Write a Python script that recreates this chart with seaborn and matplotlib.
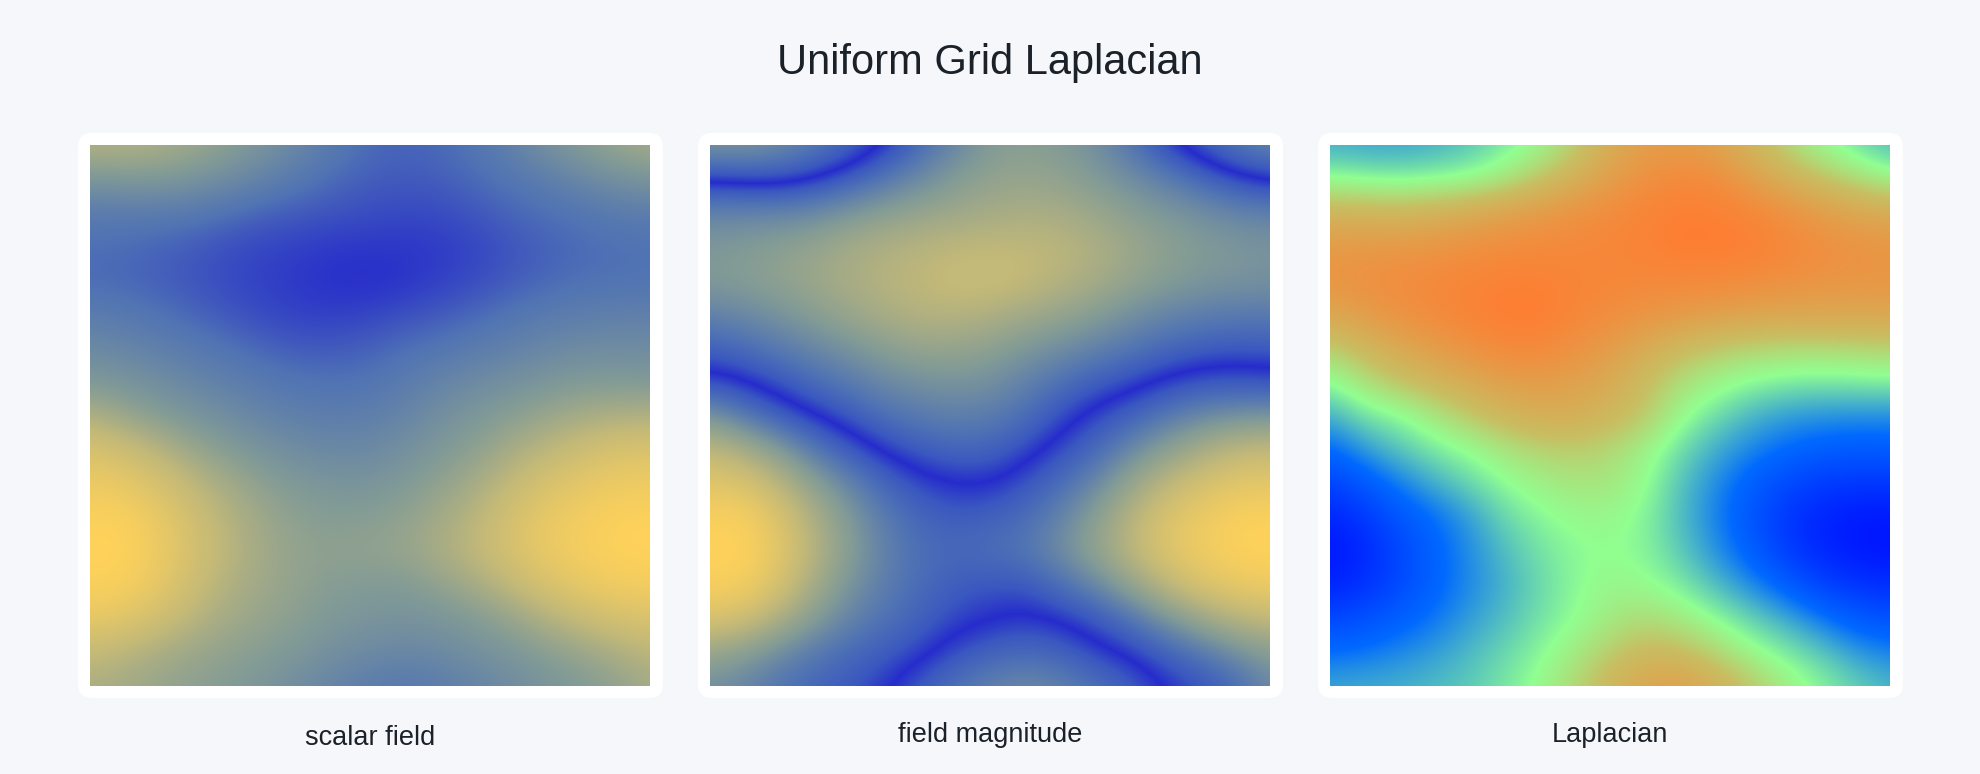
import numpy as np
import matplotlib
matplotlib.use("Agg")
import matplotlib.pyplot as plt
from matplotlib.colors import LinearSegmentedColormap, Normalize
from matplotlib.patches import FancyBboxPatch
import seaborn as sns

TITLE = "Uniform Grid Laplacian"
PANEL_NAMES = ["scalar field", "field magnitude", "Laplacian"]

# field samples, relative to the contour where magnitude vanishes
scalar_field = np.array([
 [ .38, .38, .33, .25, .14, .01,-.15,-.30,-.42,-.45,-.42,-.35,-.22,-.03, .10, .22, .30],
 [ .03, .05, .06, .00,-.10,-.22,-.33,-.43,-.48,-.50,-.48,-.42,-.35,-.27,-.15,-.05, .02],
 [-.30,-.30,-.30,-.33,-.40,-.46,-.50,-.53,-.56,-.58,-.57,-.52,-.45,-.40,-.36,-.30,-.28],
 [-.40,-.42,-.46,-.50,-.56,-.60,-.63,-.66,-.67,-.67,-.65,-.60,-.53,-.47,-.42,-.40,-.38],
 [-.42,-.44,-.48,-.53,-.58,-.63,-.67,-.71,-.72,-.69,-.63,-.57,-.50,-.44,-.40,-.38,-.37],
 [-.28,-.32,-.38,-.45,-.52,-.58,-.62,-.63,-.60,-.55,-.50,-.44,-.36,-.30,-.26,-.24,-.24],
 [-.12,-.17,-.24,-.31,-.38,-.45,-.50,-.50,-.47,-.40,-.35,-.28,-.22,-.15,-.11,-.09,-.10],
 [ .05, .00,-.08,-.17,-.24,-.32,-.36,-.38,-.36,-.28,-.19,-.11,-.05, .02, .07, .08, .06],
 [ .37, .22, .10, .00,-.09,-.19,-.24,-.27,-.25,-.18,-.06, .04, .12, .22, .30, .34, .36],
 [ .66, .56, .40, .22, .09,-.02,-.10,-.14,-.13,-.05, .05, .15, .30, .43, .55, .66, .68],
 [ .84, .80, .64, .44, .28, .14, .05, .00, .00, .07, .17, .30, .48, .65, .77, .84, .86],
 [ .97, .97, .80, .58, .39, .24, .14, .10, .12, .17, .28, .43, .62, .80, .90, .97, .99],
 [1.00,1.00, .85, .62, .42, .27, .18, .16, .18, .22, .33, .47, .65, .82, .92, .99,1.00],
 [ .97, .95, .78, .55, .36, .25, .17, .10, .08, .08, .18, .30, .47, .65, .80, .88, .92],
 [ .80, .74, .58, .41, .28, .20, .12, .05, .01,-.02, .01, .08, .20, .36, .50, .62, .68],
 [ .50, .42, .32, .23, .16, .10, .04,-.06,-.12,-.15,-.12,-.04, .02, .12, .22, .33, .43],
 [ .33, .28, .20, .14, .08, .01,-.10,-.20,-.28,-.33,-.28,-.20,-.11,-.01, .06, .15, .30],
])

laplacian = np.array([
 [-.25,-.28,-.28,-.25,-.18,-.08, .03, .22, .50, .65, .68, .60, .42, .20, .02,-.10,-.22],
 [ .00,-.03,-.05,-.03, .00, .10, .28, .47, .65, .80, .88, .85, .65, .48, .32, .18, .05],
 [ .42, .42, .40, .45, .52, .62, .70, .78, .85, .93, .98, .97, .92, .80, .68, .58, .52],
 [ .70, .72, .72, .75, .80, .84, .86, .88, .90, .94,1.00,1.00, .98, .90, .83, .78, .75],
 [ .75, .80, .84, .88, .92, .96, .96, .92, .90, .88, .88, .87, .84, .80, .76, .74, .74],
 [ .57, .68, .78, .86, .94,1.00,1.00, .90, .83, .76, .70, .65, .60, .58, .58, .58, .58],
 [ .22, .40, .55, .68, .78, .88, .88, .78, .68, .52, .37, .27, .22, .18, .18, .20, .22],
 [-.01, .15, .30, .42, .53, .64, .67, .63, .53, .35, .16, .06,-.02,-.05,-.07,-.06,-.04],
 [-.25,-.08,-.03, .12, .27, .42, .50, .50, .40, .28, .03,-.10,-.22,-.30,-.33,-.34,-.35],
 [-.48,-.30,-.17,-.07, .01, .12, .22, .25, .20, .06,-.10,-.25,-.37,-.46,-.52,-.55,-.53],
 [-.72,-.56,-.39,-.24,-.12,-.01, .07, .13, .12, .02,-.18,-.35,-.52,-.66,-.75,-.78,-.78],
 [-.90,-.78,-.58,-.45,-.30,-.12,-.03, .03, .04,-.03,-.20,-.38,-.58,-.78,-.90,-.97,-.98],
 [-1.0,-.88,-.68,-.50,-.35,-.20,-.09,-.02, .00,-.03,-.16,-.33,-.52,-.74,-.88,-.97,-1.0],
 [-.92,-.82,-.66,-.50,-.36,-.24,-.12,-.02, .05, .02,-.06,-.20,-.35,-.52,-.70,-.80,-.85],
 [-.68,-.62,-.52,-.42,-.30,-.20,-.09,-.01, .10, .18, .10,-.01,-.13,-.25,-.40,-.55,-.60],
 [-.45,-.42,-.36,-.30,-.21,-.12,-.03, .10, .25, .38, .35, .20, .04,-.06,-.16,-.30,-.38],
 [-.27,-.25,-.24,-.20,-.16,-.07, .03, .20, .42, .58, .66, .50, .30, .10,-.02,-.13,-.22],
])

field_stops = [(38, 44, 204), (80, 115, 180), (130, 155, 150), (195, 185, 120), (255, 210, 90)]
field_levels = [-0.72, -0.38, 0.08, 0.48, 1.0]
mag_core = (58, 88, 192)
mag_core_level = 0.08
mag_levels_up = [0.0, 0.20, 0.40, 0.68, 1.0]
mag_levels_down = [0.0, -0.20, -0.42, -0.68]
lap_stops = [(0, 20, 255), (0, 105, 255), (145, 255, 145), (200, 190, 98), (255, 125, 50)]
lap_levels = [-1.0, -0.46, 0.0, 0.33, 1.0]


def rgb(c):
    return tuple(v / 255 for v in c)


def ramp(name, levels, colors):
    lo, hi = levels[0], levels[-1]
    pts = [((v - lo) / (hi - lo), rgb(c)) for v, c in zip(levels, colors)]
    return LinearSegmentedColormap.from_list(name, pts, N=4096)


field_cmap = ramp("field", field_levels, field_stops)
mag_levels = ([-1.0] + mag_levels_down[:0:-1] + [-mag_core_level, 0.0, mag_core_level]
              + mag_levels_up[1:])
mag_colors = ([field_stops[3], field_stops[3], field_stops[2], field_stops[1], mag_core,
               field_stops[0], mag_core] + field_stops[1:])
mag_cmap = ramp("mag", mag_levels, mag_colors)
lap_cmap = ramp("lap", lap_levels, lap_stops)

sns.set_theme(style="white")
plt.rcParams["font.family"] = ["Liberation Sans", "DejaVu Sans"]

W, H = 1980, 774
BG = "#f5f7fa"
INK = "#1b2129"
fig = plt.figure(figsize=(W / 100, H / 100), dpi=100, facecolor=BG)

panels = [
    (scalar_field, field_cmap, Normalize(-0.72, 1.0), 90, 738),
    (scalar_field, mag_cmap, Normalize(-1.0, 1.0), 710, 735),
    (laplacian, lap_cmap, Normalize(-1.0, 1.0), 1330, 735),
]
TOP, IW, IH, PAD, R = 145, 560, 541, 12, 14

for (data, cmap, norm, left, cap_y), name in zip(panels, PANEL_NAMES):
    # rounded card drawn in pixel space so that the corners stay circular
    card = FancyBboxPatch(
        (left - PAD + R, H - (TOP + IH + PAD - R)),
        IW + 2 * PAD - 2 * R + 1, IH + 2 * PAD - 2 * R,
        boxstyle=f"round,pad={R},rounding_size={R}", transform=None,
        facecolor="white", edgecolor="none", zorder=0)
    fig.add_artist(card)

    ax = fig.add_axes([left / W, 1 - (TOP + IH) / H, IW / W, IH / H])
    ax.set_zorder(2)
    sns.heatmap(data, ax=ax, cmap=cmap, norm=norm, cbar=False,
                xticklabels=False, yticklabels=False, square=False)
    n = data.shape[0]
    # the samples are nodes of a continuous field, so smooth them on top of the cell mesh
    ax.imshow(data, cmap=cmap, norm=norm, extent=(0, n, n, 0), aspect="auto",
              interpolation="bicubic", interpolation_stage="data", zorder=3)
    ax.set_xlim(0.5, n - 0.5)
    ax.set_ylim(n - 0.5, 0.5)
    ax.set_axis_off()
    fig.text((left + IW / 2) / W, 1 - cap_y / H, name, ha="center", va="center",
             fontsize=19.5, color=INK)

fig.text(990 / W, 1 - 63 / H, TITLE, ha="center", va="center", fontsize=30, color=INK)
fig.savefig("out.png", dpi=100, facecolor=BG)
